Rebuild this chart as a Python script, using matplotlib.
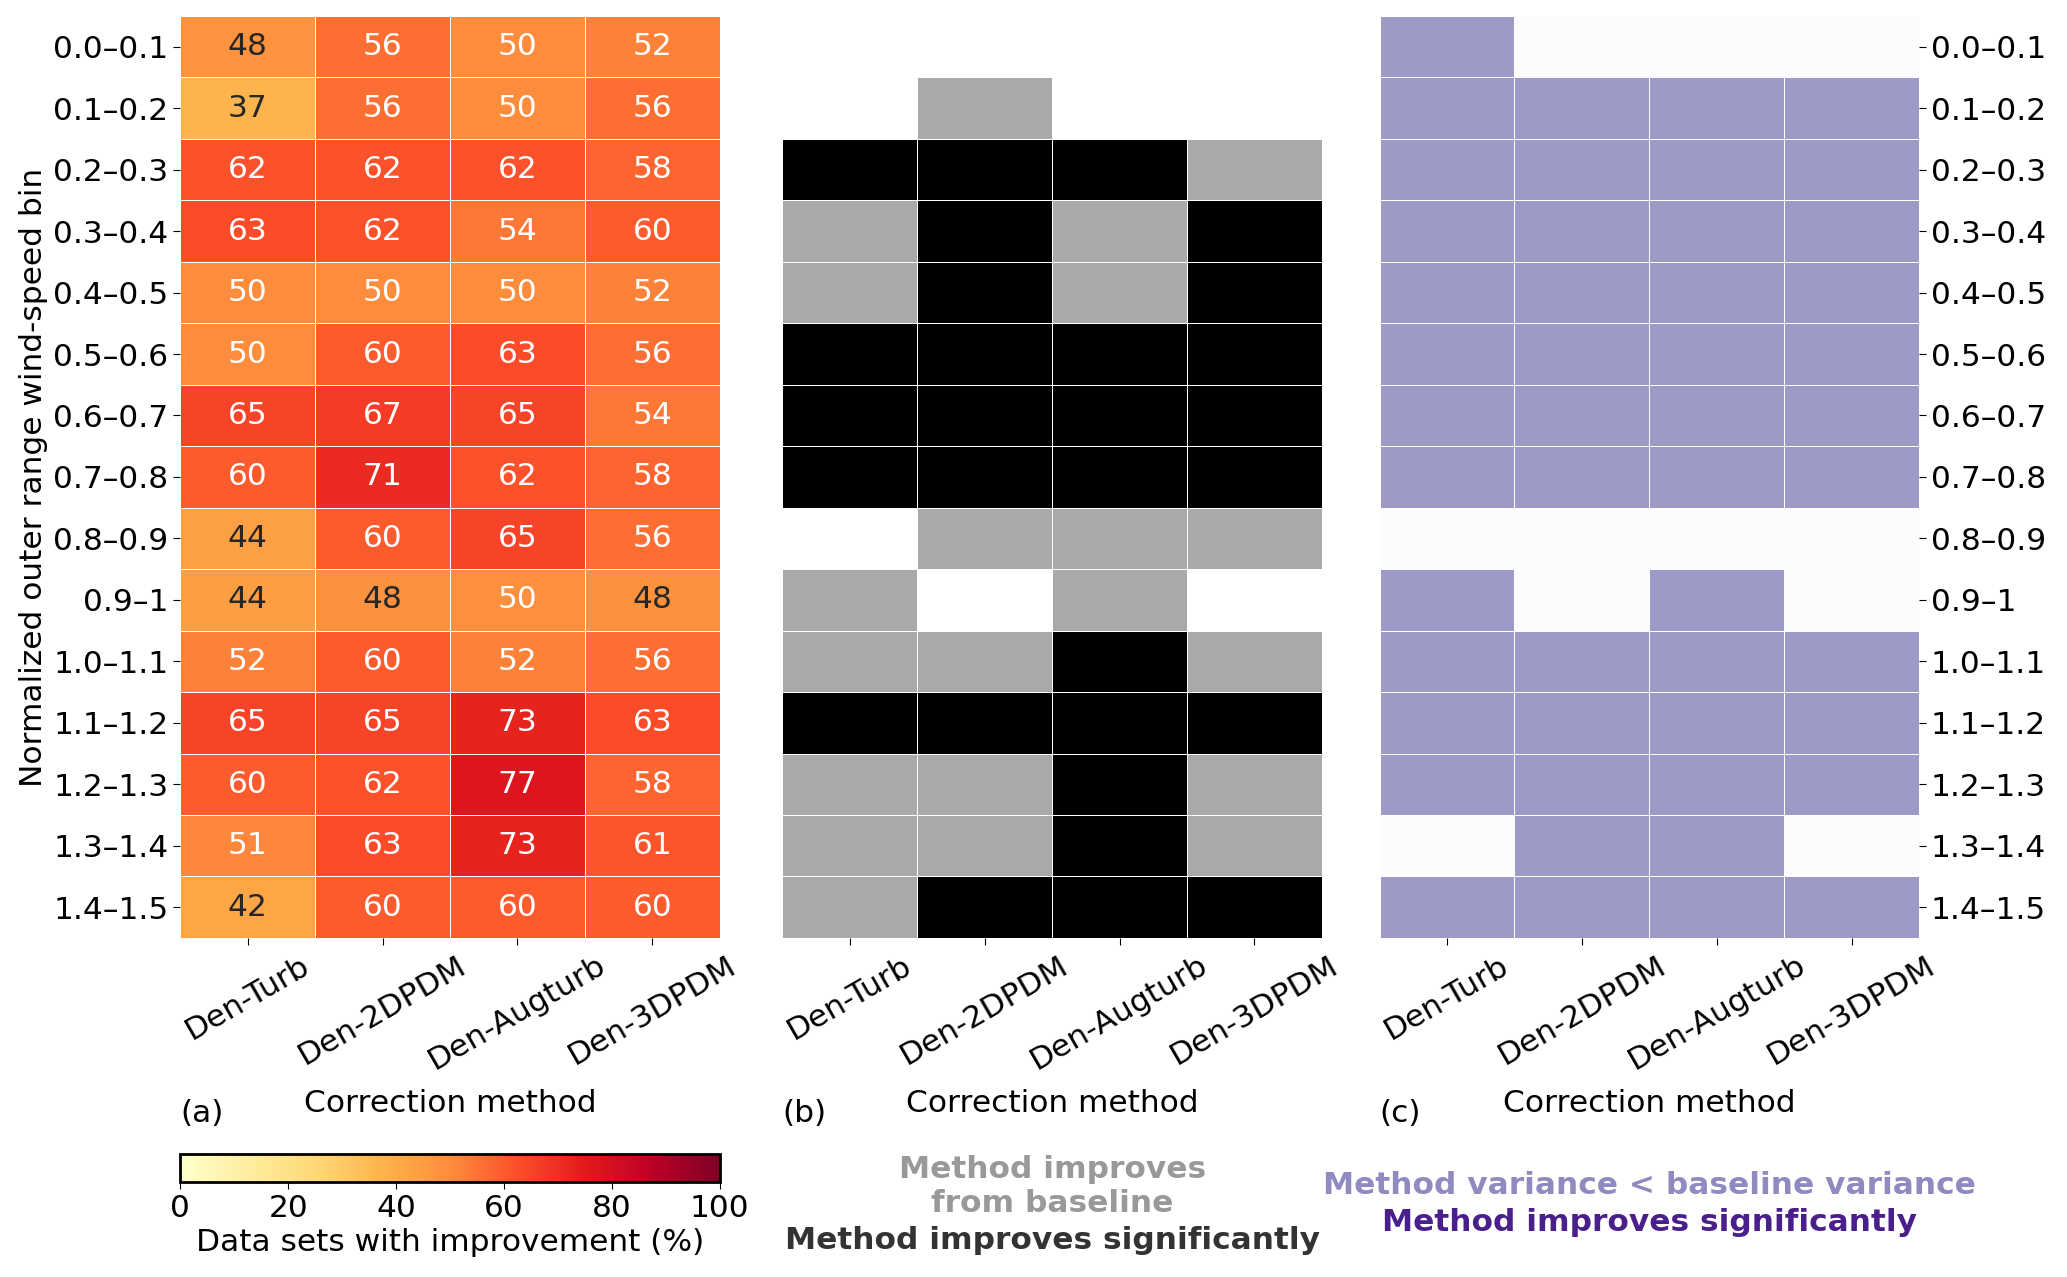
import numpy as np
import matplotlib.pyplot as plt
from matplotlib.colors import ListedColormap, to_rgba

plt.rcParams["font.family"] = "DejaVu Sans"
plt.rcParams["font.size"] = 22.5

bins = ["0.0–0.1", "0.1–0.2", "0.2–0.3", "0.3–0.4", "0.4–0.5",
        "0.5–0.6", "0.6–0.7", "0.7–0.8", "0.8–0.9", "0.9–1",
        "1.0–1.1", "1.1–1.2", "1.2–1.3", "1.3–1.4", "1.4–1.5"]
methods = ["Den-Turb", "Den-2DPDM", "Den-Augturb", "Den-3DPDM"]

# (a) share of data sets with improvement (%)
pct_improved = np.array([
    [48, 56, 50, 52],
    [37, 56, 50, 56],
    [62, 62, 62, 58],
    [63, 62, 54, 60],
    [50, 50, 50, 52],
    [50, 60, 63, 56],
    [65, 67, 65, 54],
    [60, 71, 62, 58],
    [44, 60, 65, 56],
    [44.4, 48.1, 49.6, 48.1],
    [52, 60, 52, 56],
    [65, 65, 73, 63],
    [60, 62, 77, 58],
    [51, 63, 73, 61],
    [42, 60, 60, 60],
])

# (b) 0 = no improvement, 1 = improves from baseline, 2 = improves significantly
improve_level = np.array([
    [0, 0, 0, 0],
    [0, 1, 0, 0],
    [2, 2, 2, 1],
    [1, 2, 1, 2],
    [1, 2, 1, 2],
    [2, 2, 2, 2],
    [2, 2, 2, 2],
    [2, 2, 2, 2],
    [0, 1, 1, 1],
    [1, 0, 1, 0],
    [1, 1, 2, 1],
    [2, 2, 2, 2],
    [1, 1, 2, 1],
    [1, 1, 2, 1],
    [1, 2, 2, 2],
])

# (c) 0 = no, 1 = variance < baseline variance, 2 = improves significantly
variance_level = np.array([
    [1, 0, 0, 0],
    [1, 1, 1, 1],
    [1, 1, 1, 1],
    [1, 1, 1, 1],
    [1, 1, 1, 1],
    [1, 1, 1, 1],
    [1, 1, 1, 1],
    [1, 1, 1, 1],
    [0, 0, 0, 0],
    [1, 0, 1, 0],
    [1, 1, 1, 1],
    [1, 1, 1, 1],
    [1, 1, 1, 1],
    [0, 1, 1, 0],
    [1, 1, 1, 1],
])


def luminance(c):
    rgb = np.array(to_rgba(c)[:3])
    rgb = np.where(rgb <= .03928, rgb / 12.92, ((rgb + .055) / 1.055) ** 2.4)
    return rgb.dot([.2126, .7152, .0722])


def style_axes(ax, yside):
    ax.set_xlim(0, len(methods))
    ax.set_ylim(len(bins), 0)
    for s in ax.spines.values():
        s.set_visible(False)
    ax.set_xticks(np.arange(len(methods)) + 0.5)
    ax.set_xticklabels(methods, rotation=30, ha="center")
    ax.tick_params(axis="x", length=5, pad=4)
    ax.set_xlabel("Correction method", labelpad=10)
    ax.set_yticks(np.arange(len(bins)) + 0.5)
    if yside is None:
        ax.tick_params(axis="y", left=False, labelleft=False)
    else:
        ax.set_yticklabels(bins)
        ax.tick_params(axis="y", length=5)
        if yside == "right":
            ax.yaxis.tick_right()


fig = plt.figure(figsize=(20.67, 12.77), dpi=100)
ax_a = fig.add_axes([0.0872, 0.2655, 0.261, 0.722])
ax_b = fig.add_axes([0.3785, 0.2655, 0.261, 0.722])
ax_c = fig.add_axes([0.6674, 0.2655, 0.261, 0.722])
cax = fig.add_axes([0.0872, 0.0744, 0.261, 0.0219])

# (a)
mesh = ax_a.pcolormesh(pct_improved, cmap="YlOrRd", vmin=0, vmax=100,
                       edgecolors="white", linewidth=0.6)
style_axes(ax_a, "left")
ax_a.set_ylabel("Normalized outer range wind-speed bin")
cols = mesh.cmap(mesh.norm(pct_improved))
for i in range(len(bins)):
    for j in range(len(methods)):
        tc = "white" if luminance(cols[i, j]) < .408 else "#262626"
        ax_a.text(j + 0.5, i + 0.5, f"{pct_improved[i, j]:.0f}",
                  ha="center", va="center", color=tc)

cb = fig.colorbar(mesh, cax=cax, orientation="horizontal")
cb.set_ticks([0, 20, 40, 60, 80, 100])
cb.outline.set_linewidth(2)
cb.set_label("Data sets with improvement (%)")
cax.tick_params(length=5)

# (b)
ax_b.pcolormesh(improve_level, cmap=ListedColormap(["white", "#a9a9a9", "black"]),
                vmin=-0.5, vmax=2.5, edgecolors="white", linewidth=0.6)
style_axes(ax_b, None)

# (c)
ax_c.pcolormesh(variance_level, cmap=ListedColormap(["#fcfbfd", "#9e9ac8", "#54278f"]),
                vmin=-0.5, vmax=2.5, edgecolors="white", linewidth=0.6)
style_axes(ax_c, "right")

for ax, lab in zip([ax_a, ax_b, ax_c], ["(a)", "(b)", "(c)"]):
    x0 = ax.get_position().x0
    fig.text(x0, 0.128, lab, ha="left", va="center")

xb = ax_b.get_position().x0 + ax_b.get_position().width / 2
fig.text(xb, 0.0838, "Method improves", ha="center", va="center",
         color="#999999", fontweight="bold")
fig.text(xb, 0.0572, "from baseline", ha="center", va="center",
         color="#999999", fontweight="bold")
fig.text(xb, 0.0282, "Method improves significantly", ha="center", va="center",
         color="#333333", fontweight="bold")

xc = ax_c.get_position().x0 + ax_c.get_position().width / 2
fig.text(xc, 0.0713, "Method variance < baseline variance", ha="center",
         va="center", color="#8f8ac0", fontweight="bold")
fig.text(xc, 0.0423, "Method improves significantly", ha="center",
         va="center", color="#4a1f8c", fontweight="bold")

fig.savefig("out.png", dpi=100)
